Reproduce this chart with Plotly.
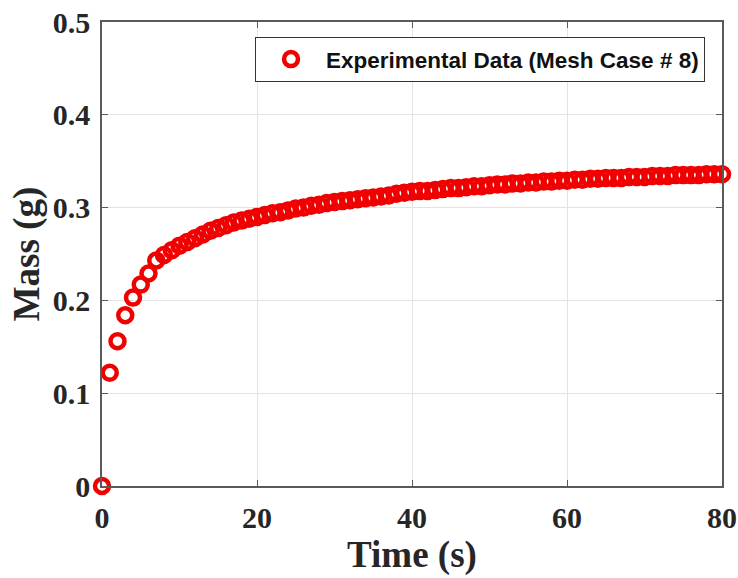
import plotly.graph_objects as go

time_s = list(range(0, 81))
mass_g = [
    0.000, 0.122, 0.156, 0.184, 0.203, 0.217, 0.229, 0.243, 0.249, 0.254,
    0.259, 0.263, 0.267, 0.271, 0.275, 0.278, 0.281, 0.284, 0.286, 0.288,
    0.290, 0.292, 0.294, 0.295, 0.297, 0.299, 0.300, 0.302, 0.303, 0.305,
    0.306, 0.307, 0.308, 0.309, 0.310, 0.311, 0.312, 0.313, 0.315, 0.316,
    0.317, 0.318, 0.318, 0.319, 0.320, 0.321, 0.321, 0.322, 0.323, 0.323,
    0.324, 0.325, 0.325, 0.326, 0.326, 0.327, 0.327, 0.328, 0.328, 0.329,
    0.329, 0.330, 0.330, 0.331, 0.331, 0.332, 0.332, 0.332, 0.333, 0.333,
    0.333, 0.334, 0.334, 0.334, 0.335, 0.335, 0.335, 0.335, 0.336, 0.336,
    0.336,
]
series_name = "Experimental Data (Mesh Case # 8)"
x_ticks = [0, 20, 40, 60, 80]
y_ticks = [0, 0.1, 0.2, 0.3, 0.4, 0.5]
y_tick_text = ["0", "0.1", "0.2", "0.3", "0.4", "0.5"]

fig = go.Figure()
fig.add_trace(go.Scatter(
    x=time_s, y=mass_g, mode="markers", name=series_name,
    cliponaxis=False,
    marker=dict(symbol="circle-open", size=14, color="#f00000",
                line=dict(width=4.5, color="#f00000")),
))

serif = "Liberation Serif"
axis_common = dict(
    showline=True, linecolor="#5a5a5a", linewidth=1.5, mirror="allticks",
    ticks="inside", ticklen=6, tickcolor="#5a5a5a", tickwidth=1.2,
    showgrid=True, gridcolor="#e3e3e3", gridwidth=1, zeroline=False,
    automargin=False, ticklabelstandoff=4,
    tickfont=dict(family=serif, size=30, color="#262626", weight="bold"),
)

fig.update_layout(
    width=738, height=578,
    margin=dict(l=102, r=16, t=22, b=92),
    plot_bgcolor="white", paper_bgcolor="white",
    showlegend=True,
    legend=dict(
        x=0.9726, y=0.9677, xanchor="right", yanchor="top",
        bgcolor="white", bordercolor="#333333", borderwidth=1,
        font=dict(family="Liberation Sans", size=22.5, color="#111111",
                  weight="bold"),
        itemwidth=60,
    ),
    xaxis=dict(
        range=[0, 80], tickvals=x_ticks,
        title=dict(text="Time (s)", standoff=6,
                   font=dict(family=serif, size=37, color="#262626",
                             weight="bold")),
        **axis_common,
    ),
    yaxis=dict(
        range=[0, 0.5], tickvals=y_ticks, ticktext=y_tick_text,
        title=dict(text="Mass (g)", standoff=2,
                   font=dict(family=serif, size=37, color="#262626",
                             weight="bold")),
        **axis_common,
    ),
)

fig.write_html("out.html")
